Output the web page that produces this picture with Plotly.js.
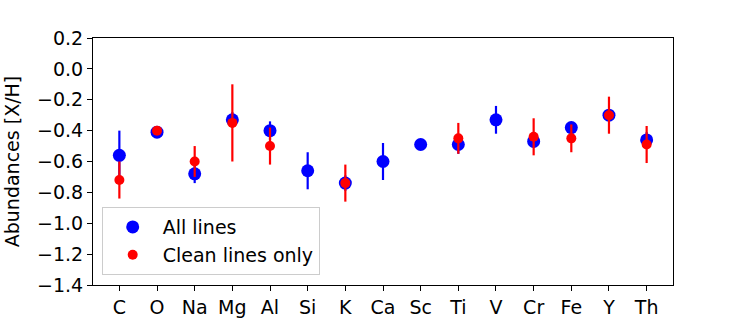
<!DOCTYPE html>
<html>
<head>
<meta charset="utf-8">
<script src="https://cdn.plot.ly/plotly-3.0.1.min.js"></script>
<style>
  html, body { margin: 0; padding: 0; background: #fff; }
  #chart { width: 747px; height: 320px; }
</style>
</head>
<body>
<div id="chart"></div>
<script>
// element labels along the x axis
const elements = ['C', 'O', 'Na', 'Mg', 'Al', 'Si', 'K', 'Ca', 'Sc', 'Ti', 'V', 'Cr', 'Fe', 'Y', 'Th'];

// abundances from all lines
const allLines = [-0.56, -0.41, -0.68, -0.33, -0.40, -0.66, -0.74, -0.60, -0.49, -0.49, -0.33, -0.47, -0.38, -0.30, -0.46];
const allErr = [0.16, 0.02, 0.06, 0.05, 0.06, 0.12, 0.05, 0.12, 0.03, 0.06, 0.09, 0.04, 0.03, 0.03, 0.05];

// abundances from clean lines only (missing for some elements)
const cleanLines = [-0.72, -0.40, -0.60, -0.35, -0.50, null, -0.74, null, null, -0.45, null, -0.44, -0.45, -0.30, -0.49];
const cleanErr = [0.12, 0.02, 0.10, 0.25, 0.12, null, 0.12, null, null, 0.10, null, 0.12, 0.09, 0.12, 0.12];

const yTicks = [0.2, 0.0, -0.2, -0.4, -0.6, -0.8, -1.0, -1.2, -1.4];

const xIdx = elements.map((_, i) => i);

const font = { family: 'DejaVu Sans, sans-serif', size: 19, color: '#000' };

const data = [
  {
    type: 'scatter',
    mode: 'markers',
    name: 'All lines',
    legendgroup: 'a',
    x: xIdx,
    y: allLines,
    marker: { color: 'blue', size: 13 },
    error_y: { type: 'data', array: allErr, color: 'blue', thickness: 2.2, width: 0 }
  },
  {
    type: 'scatter',
    mode: 'markers',
    name: 'Clean lines only',
    legendgroup: 'b',
    x: xIdx,
    y: cleanLines,
    marker: { color: 'red', size: 10 },
    error_y: { type: 'data', array: cleanErr, color: 'red', thickness: 2.2, width: 0 }
  }
];

const layout = {
  width: 747,
  height: 320,
  margin: { l: 93, r: 74, t: 38, b: 35 },
  paper_bgcolor: '#fff',
  plot_bgcolor: '#fff',
  font: font,
  showlegend: true,
  legend: {
    x: 0.015, y: 0.04, xanchor: 'left', yanchor: 'bottom',
    bgcolor: 'rgba(255,255,255,0.8)', bordercolor: '#cccccc', borderwidth: 1,
    font: font, tracegroupgap: 0, itemwidth: 50
  },
  xaxis: {
    range: [-0.7, 14.7],
    tickmode: 'array',
    tickvals: xIdx,
    ticktext: elements,
    ticks: 'outside', ticklen: 5, tickcolor: '#000', tickwidth: 1,
    showline: true, mirror: true, linecolor: '#000', linewidth: 1,
    showgrid: false, zeroline: false, automargin: false,
    tickfont: font
  },
  yaxis: {
    range: [-1.4, 0.2],
    tickmode: 'array',
    tickvals: yTicks,
    ticktext: yTicks.map(v => v.toFixed(1).replace('-', '\u2212')),
    ticks: 'outside', ticklen: 5, tickcolor: '#000', tickwidth: 1,
    showline: true, mirror: true, linecolor: '#000', linewidth: 1,
    showgrid: false, zeroline: false, automargin: false,
    tickfont: font,
    title: { text: 'Abundances [X/H]', font: font, standoff: 12 }
  }
};

Plotly.newPlot('chart', data, layout, { displayModeBar: false, staticPlot: true });
</script>
</body>
</html>
